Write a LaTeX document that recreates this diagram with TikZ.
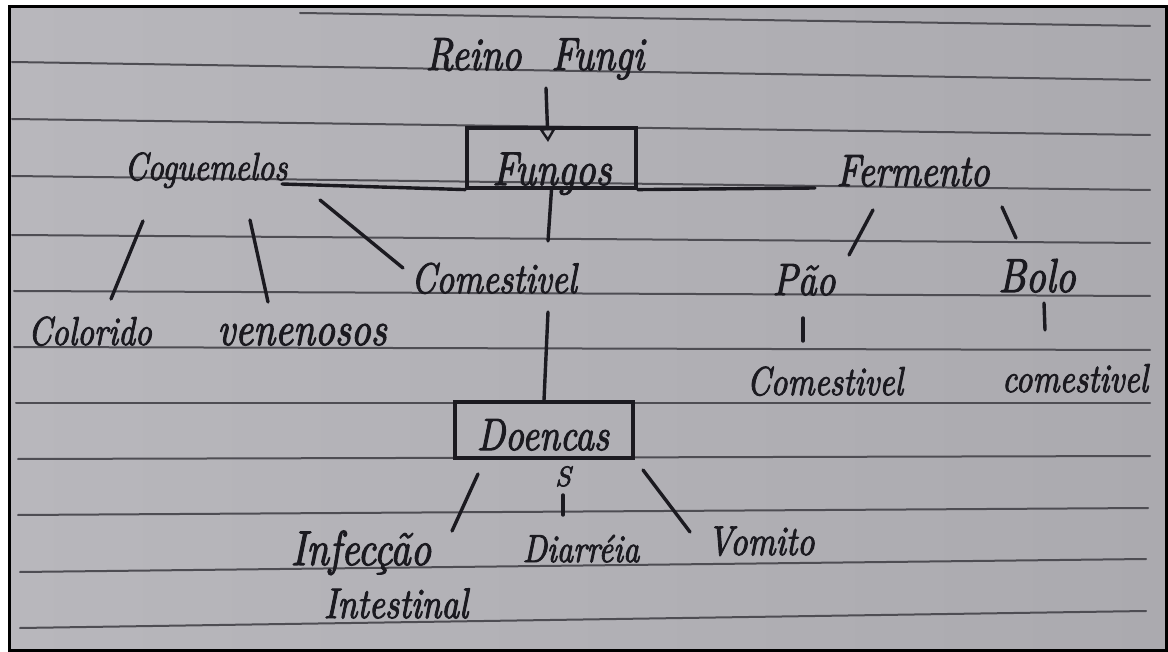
\documentclass[tikz,border=0pt]{standalone}
\usepackage{fontspec}
\usetikzlibrary{arrows.meta}
\newfontface\hand{lmroman10-italic.otf}[FakeBold=2.5]
\newcommand\tallword[1]{\scalebox{1}[1.22]{#1}}
\definecolor{ink}{HTML}{1B1A20}
\definecolor{rulec}{HTML}{4E4D53}
\definecolor{paperL}{HTML}{B8B7BC}
\definecolor{paperR}{HTML}{ABAAAF}
\tikzset{
  ink/.style={draw=ink, line width=3.4pt, line cap=round},
  rule/.style={draw=rulec, line width=2pt, line cap=round},
  hw/.style={inner sep=0pt, text=ink, anchor=base, font=\hand\fontsize{#1}{#1}\selectfont},
  boxed/.style={draw=ink, line width=3.2pt, inner sep=0pt},
}
\begin{document}
\begin{tikzpicture}[x=1pt,y=-1pt]
\useasboundingbox (0,0) rectangle (1168,652);
\fill[white] (0,0) rectangle (1168,652);
% sheet of ruled paper
\shade[left color=paperL, right color=paperR] (9,7) rectangle (1166,650);
\foreach \xa/\ya/\xb/\yb in {300/13/1150/26, 12/62/1150/80, 12/119/1150/135,
    12/176/1150/190, 12/235/1150/243, 14/291/1150/296, 14/347/1150/350,
    16/403/1150/403, 18/459/1150/456, 18/515/1148/508, 20/572/1146/559,
    20/628/1146/611}
  \draw[rule] (\xa,\ya) -- (\xb,\yb);
\draw[line width=3pt] (9,7) rectangle (1166,650);

% texts
\node[hw=38] (reino) at (535,70) {\tallword{Reino\hspace{30pt}Fungi}};
\node[boxed, minimum width=169pt, minimum height=60pt] (fungos) at (551.5,158) {};
\node[hw=39] (fungosT) at (552,185) {\tallword{Fungos}};
\node[hw=32] (cog) at (206,180) {\tallword{Coguemelos}};
\node[hw=37] (ferm) at (913,186) {\tallword{Fermento}};
\node[hw=35] (com) at (494,293) {\tallword{Comestivel}};
\node[hw=33] (col) at (90,345) {\tallword{Colorido}};
\node[hw=39] (ven) at (302,345) {\tallword{venenosos}};
\node[hw=37] (pao) at (804,295) {\tallword{Pão}};
\node[hw=39] (bolo) at (1037,292) {\tallword{Bolo}};
\node[hw=33] (com2) at (825,395) {\tallword{Comestivel}};
\node[hw=33] (com3) at (1075,392) {\tallword{comestivel}};
\node[boxed, minimum width=178pt, minimum height=56pt] (doe) at (544,430) {};
\node[hw=37] (doeT) at (543,450) {\tallword{Doencas}};
\node[hw=28] (ced) at (563,486) {S};
\node[hw=40] (inf) at (361,565) {\tallword{Infecção}};
\node[hw=35] (int) at (396,618) {\tallword{Intestinal}};
\node[hw=32] (dia) at (581,562) {\tallword{Diarréia}};
\node[hw=34] (vom) at (761,555) {\tallword{Vomito}};

% free ends of the hand-drawn strokes
\coordinate (reino-s) at (546,88);
\coordinate (fungos-tip) at (548,142);
\coordinate (cog-e) at (282,184);
\coordinate (cog-s1) at (143,221);
\coordinate (cog-s2) at (250,220);
\coordinate (cog-s3) at (320,200);
\coordinate (col-n) at (111,299);
\coordinate (ven-n) at (268,302);
\coordinate (com-n) at (403,268);
\coordinate (ferm-w) at (815,188);
\coordinate (ferm-s1) at (873,210);
\coordinate (ferm-s2) at (1002,207);
\coordinate (pao-n) at (849,255);
\coordinate (bolo-n) at (1016,238);
\coordinate (pao-s) at (803,318);
\coordinate (com2-n) at (803,341);
\coordinate (bolo-s) at (1044,303);
\coordinate (com3-n) at (1045,330);
\coordinate (com-t) at (548,241);
\coordinate (com-b) at (548,312);
\coordinate (doe-s1) at (478,474);
\coordinate (inf-n) at (452,531);
\coordinate (ced-s) at (563,495);
\coordinate (dia-n) at (563,515);
\coordinate (doe-s3) at (643,470);
\coordinate (vom-n) at (690,532);

% connectors
\draw[ink, -{Triangle[open, length=14pt, width=17pt, line width=2.4pt]}] (reino-s) -- (fungos-tip);
\draw[ink] (cog-e) -- (fungos.south west);
\draw[ink] (fungos.south east) -- (ferm-w);
\draw[ink] (fungos.south) -- (com-t);
\draw[ink] (cog-s1) -- (col-n);
\draw[ink] (cog-s2) -- (ven-n);
\draw[ink] (cog-s3) -- (com-n);
\draw[ink] (com-b) -- (doe.north);
\draw[ink] (ferm-s1) -- (pao-n);
\draw[ink] (ferm-s2) -- (bolo-n);
\draw[ink] (pao-s) -- (com2-n);
\draw[ink] (bolo-s) -- (com3-n);
\draw[ink] (doe-s1) -- (inf-n);
\draw[ink] (ced-s) -- (dia-n);
\draw[ink] (doe-s3) -- (vom-n);
\end{tikzpicture}
\end{document}
